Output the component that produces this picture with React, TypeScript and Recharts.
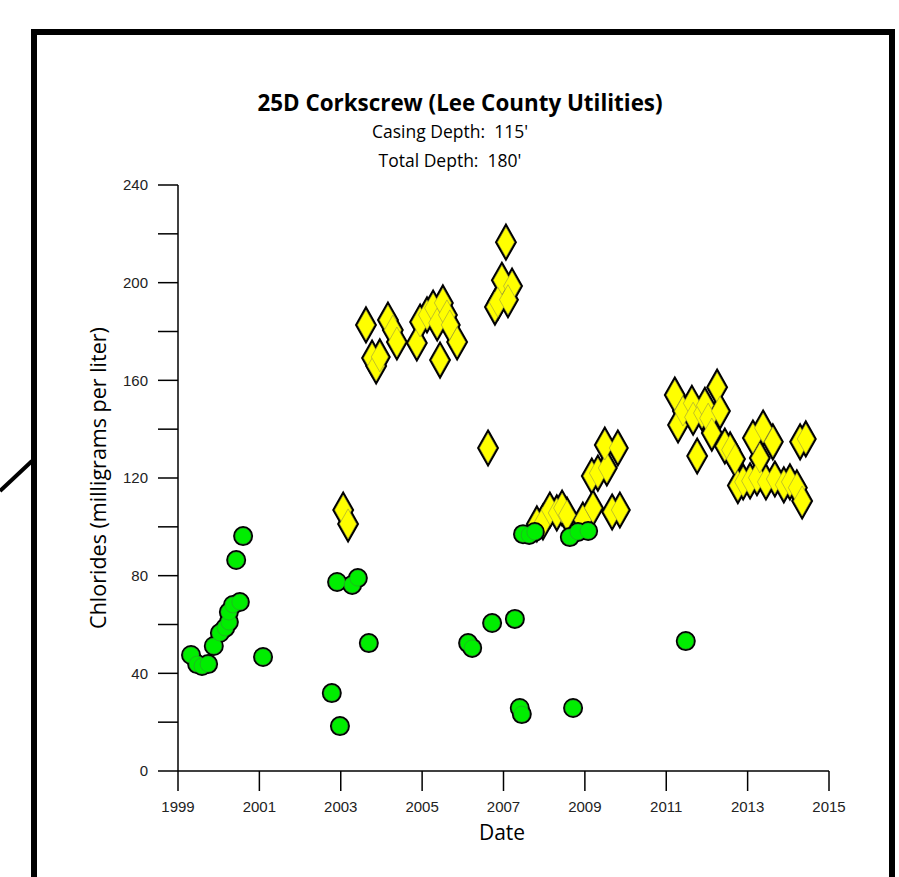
import React from 'react';
import { ScatterChart, Scatter, XAxis, YAxis } from 'recharts';

// decimal year of each sample, and its chloride value (mg/L)
const greenYears = [
  1999.32, 1999.47, 1999.59, 1999.74, 1999.88, 2000.03, 2000.16, 2000.25, 2000.25, 2000.35,
  2000.52, 2000.43, 2000.6, 2001.09, 2002.78, 2002.98, 2002.91, 2003.28, 2003.42, 2003.69,
  2006.13, 2006.23, 2006.72, 2007.28, 2007.4, 2007.45, 2008.71, 2011.48, 2007.48, 2007.63,
  2007.77, 2008.63, 2008.83, 2009.08,
];
const greenChlorides = [
  47.5, 43.8, 43, 43.8, 51.2, 56.5, 58.6, 61, 65.1, 68,
  69.2, 86.4, 96.2, 46.7, 31.9, 18.4, 77.4, 76.2, 79, 52.4,
  52.4, 50.4, 60.6, 62.3, 25.8, 23.3, 25.8, 53.2, 97, 96.7,
  97.9, 95.8, 97.9, 98.3,
];

const yellowYears = [
  2003.06, 2003.18,
  2003.62, 2003.77, 2003.87, 2003.96, 2004.16, 2004.28, 2004.38, 2004.87, 2004.95, 2005.12,
  2005.27, 2005.37, 2005.51, 2005.61, 2005.44, 2005.68, 2005.86,
  2006.62, 2007.06, 2006.96, 2007.21, 2006.79, 2006.86, 2007.11,
  2007.82, 2007.97, 2008.14, 2008.31, 2008.44, 2008.56, 2008.95, 2009.2, 2009.17, 2009.32,
  2009.54, 2009.49, 2009.81, 2009.67, 2009.86,
  2011.21, 2011.29, 2011.41, 2011.63, 2011.66, 2011.76, 2011.88, 2011.95, 2012.03, 2012.12,
  2012.25, 2012.32, 2012.44, 2012.57, 2012.69, 2012.76, 2012.89, 2013.06, 2013.13, 2013.23,
  2013.3, 2013.38, 2013.45, 2013.62, 2013.67, 2013.89, 2014.04, 2014.21, 2014.29, 2014.43,
  2014.34,
];
const yellowChlorides = [
  106.9, 101.2,
  182.7, 169.1, 165.9, 169.6, 184.7, 180.6, 175.7, 175.3, 183.9, 186.8,
  189.6, 183.5, 191.7, 186.8, 168.3, 182.7, 175.7,
  132.3, 216.6, 201, 198.6, 190, 192, 193,
  101.2, 102, 106.9, 105.7, 107.7, 104.8, 102.8, 107.7, 120.8, 122,
  124.1, 133.5, 132.3, 106.1, 106.9,
  154, 141.7, 147.4, 150.6, 144.9, 129, 146.6, 149.8, 144.5, 138.4,
  157.2, 147.4, 133.1, 131.5, 127.8, 116.9, 118.4, 118.8, 136.4, 120.1,
  128.2, 140.5, 118.4, 134.8, 119.6, 117.2, 118.4, 116, 134.8, 136,
  110.6,
];

const xTicks = [1999, 2001, 2003, 2005, 2007, 2009, 2011, 2013, 2015];
const yTicks = [0, 20, 40, 60, 80, 100, 120, 140, 160, 180, 200, 220, 240];

const greenData = greenYears.map((date, i) => ({ date, chloride: greenChlorides[i] }));
const yellowData = yellowYears.map((date, i) => ({ date, chloride: yellowChlorides[i] }));

const HW = 8.5;
const HH = 15;
const diamondPath = (cx: number, cy: number) =>
  `M${cx},${cy - HH}L${cx + HW},${cy}L${cx},${cy + HH}L${cx - HW},${cy}Z`;

// outlines go down first, fills on top, so overlapping marks merge like the original
const DiamondOutline = (props: any) => (
  <path d={diamondPath(props.cx, props.cy)} fill="#000" stroke="#000" strokeWidth={4.5} strokeLinejoin="miter" />
);
const DiamondFill = (props: any) => (
  <path d={diamondPath(props.cx, props.cy)} fill="#ffff00" stroke="#9a9a40" strokeWidth={0.6} />
);
const CircleOutline = (props: any) => (
  <circle cx={props.cx} cy={props.cy} r={8} fill="#000" stroke="#000" strokeWidth={4} />
);
const CircleFill = (props: any) => (
  <circle cx={props.cx} cy={props.cy} r={8} fill="#00ee00" stroke="#3a8a3a" strokeWidth={0.5} />
);

const tickStyle = { fontFamily: '"Liberation Sans", Arial, sans-serif', fontSize: 15, fill: '#222' };
const labelFont = '"Open Sans", sans-serif';

export default function App() {
  return (
    <div style={{ position: 'absolute', left: 0, top: 0, width: 899, height: 877, background: '#fff', overflow: 'hidden' }}>
      <ScatterChart width={899} height={877} margin={{ top: 185, right: 70, bottom: 0, left: 0 }}>
        <XAxis
          type="number"
          dataKey="date"
          domain={[1999, 2015]}
          ticks={xTicks}
          allowDataOverflow
          height={106}
          tickSize={20}
          tickMargin={10}
          tick={tickStyle}
          axisLine={{ stroke: '#000', strokeWidth: 1.5 }}
          tickLine={{ stroke: '#000', strokeWidth: 1.5 }}
        />
        <YAxis
          type="number"
          dataKey="chloride"
          domain={[0, 240]}
          ticks={yTicks}
          interval={0}
          allowDataOverflow
          width={178}
          tickSize={20}
          tickMargin={10}
          tick={tickStyle}
          tickFormatter={(v: number) => (v % 40 === 0 ? String(v) : '')}
          axisLine={{ stroke: '#000', strokeWidth: 1.5 }}
          tickLine={{ stroke: '#000', strokeWidth: 1.5 }}
        />
        <Scatter data={yellowData} shape={DiamondOutline} isAnimationActive={false} />
        <Scatter data={yellowData} shape={DiamondFill} isAnimationActive={false} />
        <Scatter data={greenData} shape={CircleOutline} isAnimationActive={false} />
        <Scatter data={greenData} shape={CircleFill} isAnimationActive={false} />
      </ScatterChart>
      <svg width={899} height={877} style={{ position: 'absolute', left: 0, top: 0, pointerEvents: 'none' }}>
        <rect x={34} y={32} width={858} height={900} fill="none" stroke="#000" strokeWidth={6} />
        <line x1={0} y1={491} x2={32} y2={461} stroke="#000" strokeWidth={4} />
        <text x={460} y={102} textAnchor="middle" dominantBaseline="central" fontFamily={labelFont} fontWeight="bold" fontSize={22.4} fill="#000">
          25D Corkscrew (Lee County Utilities)
        </text>
        <text x={450} y={131} xmlSpace="preserve" textAnchor="middle" dominantBaseline="central" fontFamily={labelFont} fontSize={17.5} fill="#000">
          {"Casing Depth:  115'"}
        </text>
        <text x={450} y={160} xmlSpace="preserve" textAnchor="middle" dominantBaseline="central" fontFamily={labelFont} fontSize={17.5} fill="#000">
          {"Total Depth:  180'"}
        </text>
        <text x={502} y={832} textAnchor="middle" dominantBaseline="central" fontFamily={labelFont} fontSize={21} fill="#000">
          Date
        </text>
        <text
          x={97}
          y={478}
          textAnchor="middle"
          dominantBaseline="central"
          fontFamily={labelFont}
          fontSize={21.5}
          fill="#000"
          transform="rotate(-90 97 478)"
        >
          Chlorides (milligrams per liter)
        </text>
      </svg>
    </div>
  );
}
